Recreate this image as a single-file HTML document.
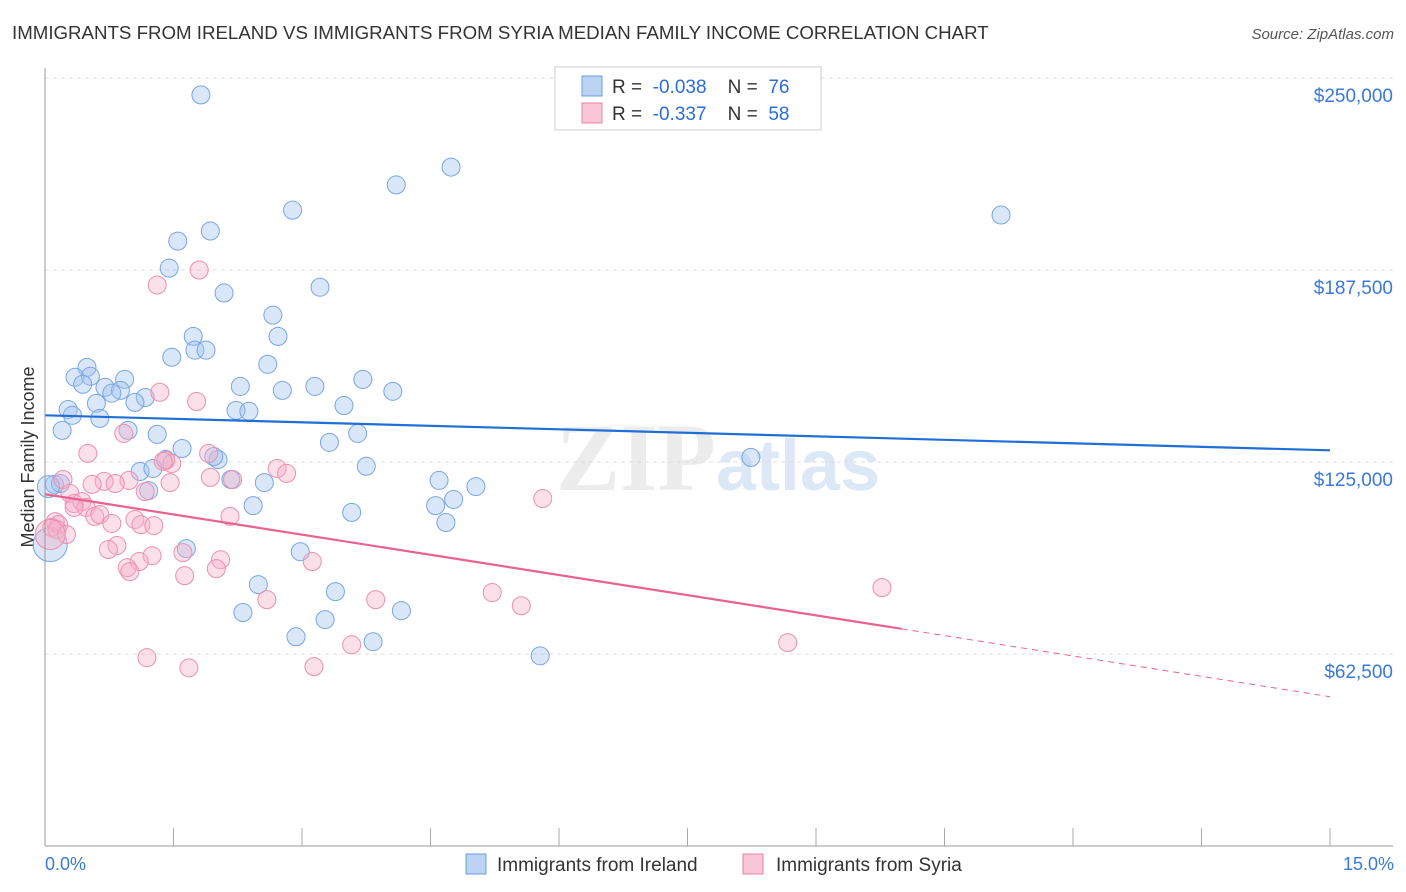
<!DOCTYPE html>
<html><head><meta charset="utf-8"><style>
body{margin:0;background:#fff;font-family:"Liberation Sans",sans-serif;}
#wrap{position:relative;width:1406px;height:892px;overflow:hidden}
</style></head><body><div id="wrap">
<svg id="chart" width="1406" height="892" xmlns="http://www.w3.org/2000/svg">
<text x="12" y="39" font-size="18.7" fill="#333">IMMIGRANTS FROM IRELAND VS IMMIGRANTS FROM SYRIA MEDIAN FAMILY INCOME CORRELATION CHART</text>
<text x="1394" y="39" font-size="15" fill="#555" font-style="italic" text-anchor="end">Source: ZipAtlas.com</text>
<text x="34" y="457" font-size="18" fill="#333" text-anchor="middle" transform="rotate(-90 34 457)">Median Family Income</text>
<text x="716" y="490" font-size="96" fill="#ececec" text-anchor="end" font-family="Liberation Serif" font-weight="bold">ZIP</text>
<text x="716" y="490" font-size="72" fill="#dde8f6" font-weight="bold">atlas</text>
<g id="grid"></g><g id="pts"></g><g id="lines"></g>
<line x1="45" y1="68" x2="45" y2="846" stroke="#999"/>
<line x1="45" y1="846" x2="1393" y2="846" stroke="#999"/>
<text x="45" y="870" font-size="18" fill="#3a78d8">0.0%</text>
<text x="1394" y="870" font-size="18" fill="#3a78d8" text-anchor="end">15.0%</text>
<g>
<rect x="555" y="67" width="266" height="63" fill="#fff" stroke="#ccc"/>
<rect x="582" y="76" width="20" height="20" fill="#bcd4f4" stroke="#6a9ee0"/>
<rect x="582" y="103" width="20" height="20" fill="#f8c6d6" stroke="#e883a8"/>
<text x="612" y="93" font-size="19" fill="#333" xml:space="preserve">R =  <tspan fill="#2a6fd6">-0.038</tspan>    N =  <tspan fill="#2a6fd6">76</tspan></text>
<text x="612" y="120" font-size="19" fill="#333" xml:space="preserve">R =  <tspan fill="#2a6fd6">-0.337</tspan>    N =  <tspan fill="#2a6fd6">58</tspan></text>
</g>
<g>
<rect x="466" y="854" width="20" height="20" fill="#bcd4f4" stroke="#6a9ee0"/>
<text x="497" y="871" font-size="19" fill="#333">Immigrants from Ireland</text>
<rect x="743" y="854" width="20" height="20" fill="#f8c6d6" stroke="#e883a8"/>
<text x="776" y="871" font-size="19" fill="#333">Immigrants from Syria</text>
</g>
</svg></div>
<script>
const yTicks=[62500,125000,187500,250000];
const yTickLabels=["$62,500","$125,000","$187,500","$250,000"];
const xTicks=[0,1.5,3,4.5,6,7.5,9,10.5,12,13.5,15];
const irelandX=[1.82,4.74,4.10,2.89,11.16,1.93,1.55,1.45,2.09,3.21,2.66,1.73,2.72,1.48,1.75,1.88,2.60,0.49,0.35,0.53,0.93,0.44,0.70,2.28,3.15,3.71,0.88,2.77,4.06,0.78,1.17,0.60,1.05,0.27,3.49,2.23,2.38,0.32,0.64,0.20,0.97,1.31,3.65,1.60,3.32,8.24,2.02,1.97,1.41,1.11,1.26,3.75,2.17,2.56,4.60,5.03,0.11,0.18,1.21,4.77,4.56,2.43,3.58,4.68,1.65,2.98,2.49,3.39,2.31,4.16,3.27,2.93,3.83,5.78,0.04,0.06];
const irelandY=[244.5,221.0,215.2,207.0,205.4,200.2,196.9,188.1,180.0,181.9,172.8,165.9,165.9,159.1,161.4,161.4,156.8,155.8,152.6,152.9,151.9,150.3,149.3,149.6,149.6,151.9,148.3,148.3,148.0,147.4,146.0,144.1,144.4,142.1,143.4,141.8,141.5,140.2,139.2,135.3,135.3,134.0,134.3,129.4,131.4,126.5,125.8,126.8,125.8,121.9,122.9,123.6,119.3,118.3,119.0,117.0,117.7,118.0,115.7,112.8,110.8,110.8,108.6,105.3,96.8,95.8,85.1,82.8,76.0,76.6,73.7,68.1,66.5,61.9,117.0,98.1];
const irelandR=[9,9,9,9,9,9,9,9,9,9,9,9,9,9,9,9,9,9,9,9,9,9,9,9,9,9,9,9,9,9,9,9,9,9,9,9,9,9,9,9,9,9,9,9,9,9,9,9,9,9,9,9,9,9,9,9,9,9,9,9,9,9,9,9,9,9,9,9,9,9,9,9,9,9,11,17];
const syriaX=[1.80,1.31,1.34,1.77,0.92,0.50,0.21,1.91,1.41,1.48,1.38,2.19,2.71,2.82,1.93,0.98,0.69,0.55,0.82,1.46,1.17,5.81,0.29,0.34,0.43,0.48,0.34,0.58,0.64,2.16,0.12,0.16,0.08,0.14,0.25,0.78,1.05,1.12,1.27,0.84,0.74,1.61,1.25,2.05,1.10,0.96,3.12,2.00,0.99,1.63,2.59,3.86,5.22,5.56,9.77,3.58,8.67,1.19,3.14,1.68,0.06];
const syriaY=[187.5,182.6,147.7,144.7,134.3,127.8,119.3,127.8,125.5,124.5,125.2,119.3,122.9,121.3,120.0,119.0,118.7,117.7,118.0,118.3,115.4,113.1,114.8,111.5,112.1,110.2,110.2,107.3,107.9,107.3,105.6,104.6,103.7,103.0,101.4,105.0,106.3,104.6,104.3,97.8,96.5,95.5,94.5,93.2,92.6,90.6,92.6,90.3,89.3,88.0,80.2,80.2,82.5,78.2,84.1,65.5,66.2,61.3,58.4,58.0,101.4];
const trendIreland=[140.2,128.8];
const trendSyria=[114.5,70.7,48.6];
const NS='http://www.w3.org/2000/svg';
const xs=v=>45+v*(1330-45)/15;
const ys=v=>846-v*(846-654)/62500;
function mk(t,a,p){const e=document.createElementNS(NS,t);for(const k in a)e.setAttribute(k,a[k]);p.appendChild(e);return e;}
const grid=document.getElementById('grid');
yTicks.forEach((t,i)=>{
 const l=mk('line',{x1:45,x2:1393,y1:ys(t),y2:ys(t),stroke:'#ddd','stroke-dasharray':'4,4'},grid);
 
 
 const tx=mk('text',{x:1393,y:ys(t)+24,'font-size':19,fill:'#3a78d8','text-anchor':'end'},grid);
 tx.textContent=yTickLabels[i];
 
 
});
xTicks.forEach(t=>{
 const l=mk('line',{x1:xs(t),x2:xs(t),y1:828,y2:846,stroke:'#aaa'},grid);
 
 
});
const pts=document.getElementById('pts');
irelandX.forEach((x,i)=>{
 const c=mk('circle',{cx:xs(x),cy:ys(irelandY[i]*1000),r:irelandR[i],fill:'rgba(160,196,240,0.4)',stroke:'#78a6e4','stroke-width':1},pts);
 
 
});
syriaX.forEach((x,i)=>{
 const c=mk('circle',{cx:xs(x),cy:ys(syriaY[i]*1000),r:i===syriaX.length-1?15:9,fill:'rgba(246,176,200,0.4)',stroke:'#ec8fb0','stroke-width':1},pts);
 
 
});
const lines=document.getElementById('lines');
const lb=mk('line',{x1:xs(0),y1:ys(trendIreland[0]*1000),x2:xs(15),y2:ys(trendIreland[1]*1000),stroke:'#1f6fd6','stroke-width':2.2},lines);


const lp=mk('line',{x1:xs(0),y1:ys(trendSyria[0]*1000),x2:xs(10),y2:ys(trendSyria[1]*1000),stroke:'#e8638f','stroke-width':2.2},lines);


const ld=mk('line',{x1:xs(10),y1:ys(trendSyria[1]*1000),x2:xs(15),y2:ys(trendSyria[2]*1000),stroke:'#e8638f','stroke-width':1,'stroke-dasharray':'6,5'},lines);


</script></body></html>
